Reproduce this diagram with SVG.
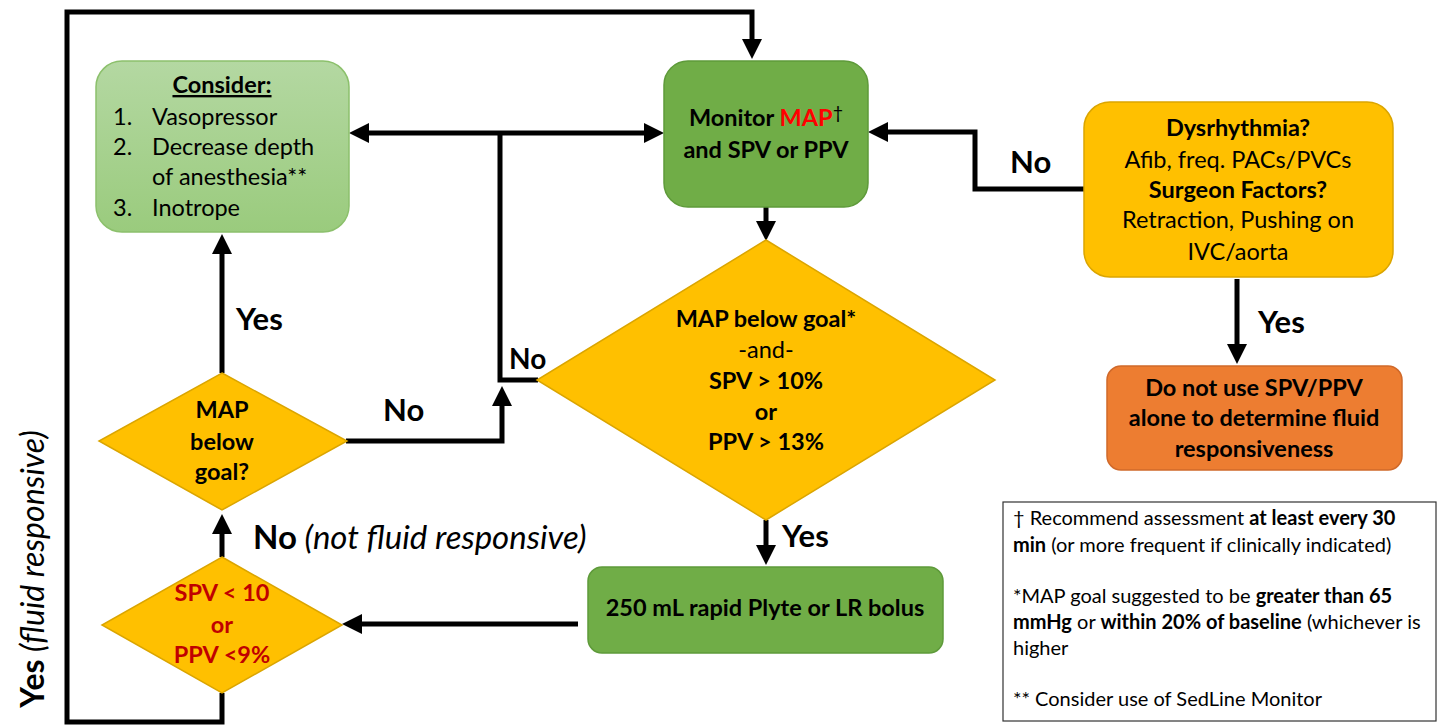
<svg xmlns="http://www.w3.org/2000/svg" width="1437" height="728" viewBox="0 0 1437 728">
<defs>
<linearGradient id="lg" x1="0" y1="0" x2="0" y2="1">
<stop offset="0" stop-color="#b4d8a2"/>
<stop offset="1" stop-color="#9acb7d"/>
</linearGradient>
<marker id="ah" markerUnits="userSpaceOnUse" markerWidth="22" markerHeight="22" refX="1" refY="10" orient="auto">
<path d="M0,0 L20,10 L0,20 Z" fill="#000"/>
</marker>
<style>
text{font-family:Lato,"Liberation Sans",sans-serif;fill:#000}
.b{font-weight:bold}
.i{font-style:italic}
.c{text-anchor:middle}
.t20{font-size:23.5px}
.lbl{font-size:31px;font-weight:bold}
.leg{font-size:20px}
.red{fill:#c00000}
.conn{fill:none;stroke:#000;stroke-width:5;stroke-linejoin:miter}
.arr{marker-end:url(#ah)}
.dg{fill:#70ad47;stroke:#5e9a3a;stroke-width:1.5}
.yl{fill:#ffc000;stroke:#dba500;stroke-width:1.5}
</style>
</defs>
<rect width="1437" height="728" fill="#fff"/>

<g id="connectors">
<path class="conn arr" d="M222,693 L222,722 L67,722 L67,12 L752,12 L752,40"/>
<path class="conn arr" d="M500,133 L368,133"/>
<path class="conn arr" d="M500,133 L645,133"/>
<path class="conn" d="M500,133 L500,380 L538,380"/>
<path class="conn arr" d="M346,441 L502,441 L502,405"/>
<path class="conn arr" d="M766,207 L766,222"/>
<path class="conn arr" d="M766,520 L766,546"/>
<path class="conn arr" d="M578,624 L361,624"/>
<path class="conn arr" d="M222,557 L222,533"/>
<path class="conn arr" d="M222,373 L222,253"/>
<path class="conn arr" d="M1084,189 L975,189 L975,132 L887,132"/>
<path class="conn arr" d="M1237,279 L1237,345"/>
</g>

<g id="labels">
<text class="lbl" x="236" y="330">Yes</text>
<text class="lbl" x="383" y="421">No</text>
<text class="lbl" x="509" y="369" style="font-size:28px">No</text>
<text x="253" y="549" style="font-size:33px"><tspan class="b">No</tspan><tspan class="i"> (not fluid responsive)</tspan></text>
<text class="lbl" x="782" y="547">Yes</text>
<text class="lbl" x="1010" y="173">No</text>
<text class="lbl" x="1258" y="333">Yes</text>
<text transform="translate(44,569) rotate(-90)" class="c" style="font-size:32px"><tspan class="b">Yes</tspan><tspan class="i"> (fluid responsive)</tspan></text>
</g>

<g id="consider">
<rect x="96" y="61" width="253" height="171" rx="26" fill="url(#lg)" stroke="#8cc06c" stroke-width="1.5"/>
<text class="b c t20" x="222" y="93" text-decoration="underline">Consider:</text>
<text class="t20" x="113" y="125">1.</text><text class="t20" x="152" y="125">Vasopressor</text>
<text class="t20" x="113" y="155">2.</text><text class="t20" x="152" y="155">Decrease depth</text>
<text class="t20" x="152" y="185">of anesthesia**</text>
<text class="t20" x="113" y="216">3.</text><text class="t20" x="152" y="216">Inotrope</text>
</g>

<g id="monitor">
<rect class="dg" x="664" y="61" width="204" height="146" rx="24"/>
<text class="b c t20" x="766" y="126">Monitor <tspan style="fill:#ff0000">MAP</tspan><tspan style="font-weight:normal;font-size:18px" dy="-7">†</tspan></text>
<text class="b c t20" x="766" y="158">and SPV or PPV</text>
</g>

<g id="dysrhythmia">
<rect class="yl" x="1084" y="102" width="309" height="175" rx="26"/>
<text class="b c t20" x="1238" y="136">Dysrhythmia?</text>
<text class="c t20" x="1238" y="168">Afib, freq. PACs/PVCs</text>
<text class="b c t20" x="1238" y="198">Surgeon Factors?</text>
<text class="c t20" x="1238" y="228">Retraction, Pushing on</text>
<text class="c t20" x="1238" y="260">IVC/aorta</text>
</g>

<g id="donotuse">
<rect x="1107" y="366" width="295" height="104" rx="14" fill="#ed7d31" stroke="#d0692a" stroke-width="1.5"/>
<text class="b c t20" x="1254" y="396">Do not use SPV/PPV</text>
<text class="b c t20" x="1254" y="426">alone to determine fluid</text>
<text class="b c t20" x="1254" y="457">responsiveness</text>
</g>

<g id="bigdiamond">
<polygon class="yl" points="766,240 995,380 766,520 537,380"/>
<text class="b c t20" x="766" y="327">MAP below goal*</text>
<text class="c t20" x="766" y="358">-and-</text>
<text class="b c t20" x="766" y="389">SPV &gt; 10%</text>
<text class="b c t20" x="766" y="420">or</text>
<text class="b c t20" x="766" y="450">PPV &gt; 13%</text>
</g>

<g id="bolus">
<rect class="dg" x="588" y="567" width="355" height="86" rx="14"/>
<text class="b c t20" x="765" y="616">250 mL rapid Plyte or LR bolus</text>
</g>

<g id="mapdiamond">
<polygon class="yl" points="222,373 347,441 222,510 99,441"/>
<text class="b c t20" x="222" y="418">MAP</text>
<text class="b c t20" x="222" y="450">below</text>
<text class="b c t20" x="222" y="480">goal?</text>
</g>

<g id="spvdiamond">
<polygon class="yl" points="222,557 342,625 222,693 102,625"/>
<text class="b c t20 red" x="222" y="601">SPV &lt; 10</text>
<text class="b c t20 red" x="222" y="633">or</text>
<text class="b c t20 red" x="222" y="663">PPV &lt;9%</text>
</g>

<g id="legend">
<rect x="1003" y="502" width="433" height="219" fill="#fff" stroke="#333" stroke-width="1.2"/>
<text class="leg" x="1013" y="525">† Recommend assessment <tspan class="b">at least every 30</tspan></text>
<text class="leg" x="1013" y="552"><tspan class="b">min</tspan> (or more frequent if clinically indicated)</text>
<text class="leg" x="1013" y="603">*MAP goal suggested to be <tspan class="b">greater than 65</tspan></text>
<text class="leg" x="1013" y="629"><tspan class="b">mmHg</tspan> or <tspan class="b">within 20% of baseline</tspan> (whichever is</text>
<text class="leg" x="1013" y="655">higher</text>
<text class="leg" x="1013" y="706">** Consider use of SedLine Monitor</text>
</g>
</svg>
